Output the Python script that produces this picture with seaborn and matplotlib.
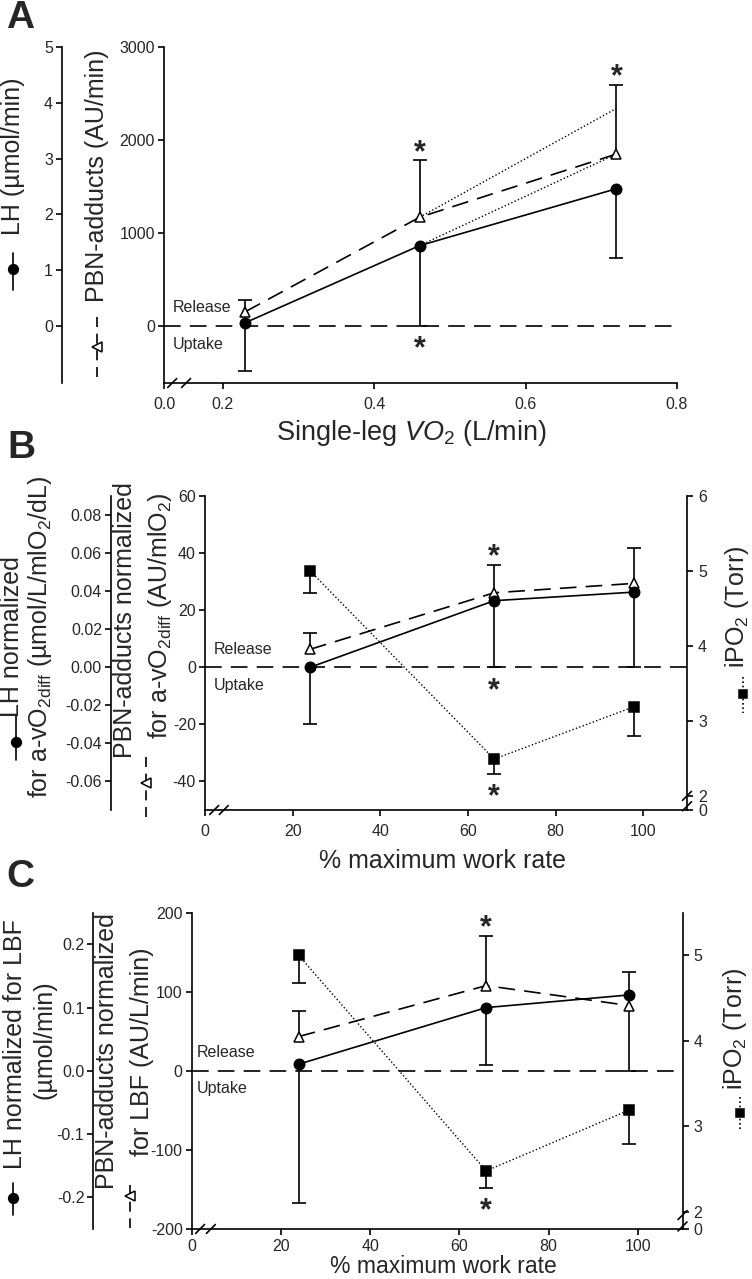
import numpy as np
import seaborn as sns
import matplotlib.pyplot as plt
import matplotlib.ticker as mticker
import matplotlib.transforms as mtransforms
from matplotlib.lines import Line2D

sns.set_style("ticks")
plt.rcParams['font.family'] = ['Liberation Sans', 'DejaVu Sans']
plt.rcParams['mathtext.fontset'] = 'custom'
plt.rcParams['mathtext.rm'] = 'Liberation Sans'
plt.rcParams['mathtext.it'] = 'Liberation Sans:italic'
plt.rcParams['axes.unicode_minus'] = False

W, H = 752, 1279

# --- Panel A: values vs single-leg VO2 ---
a_vo2 = [0.23, 0.46, 0.72]
a_lh = [0.06, 1.44, 2.46]            # LH (umol/min)
a_lh_end = [-0.81, 0.0, 1.22]        # end of one-sided error bar
a_pbn = [154, 1169, 1849]            # PBN-adducts (AU/min)
a_pbn_end = [276, 1785, 2595]
a_dot_x = [0.46, 0.72]
a_dot1 = [865, 1849]
a_dot2 = [1169, 2340]

# --- Panels B and C: values vs % maximum work rate ---
work_rate = [24, 66, 98]
b_lh = [0.0, 0.035, 0.0395]
b_lh_end = [-0.03, 0.0, 0.0]
b_pbn = [6.3, 26.1, 29.4]
b_pbn_end = [11.9, 36.0, 41.8]
b_ipo2 = [5.0, 2.49, 3.19]
b_ipo2_end = [4.70, 2.29, 2.80]

c_lh = [0.0106, 0.100, 0.120]
c_lh_end = [-0.209, 0.0095, 0.156]
c_pbn = [43.4, 107.8, 82.6]
c_pbn_end = [75.9, 171.0, 0.4]
c_ipo2 = [5.0, 2.48, 3.19]
c_ipo2_end = [4.68, 2.28, 2.79]

LW = 1.2
DASH = (0, (10, 5.5))
DOT = (0, (1, 1.6))
TICK_FS = 11.5
LABEL_FS = 18

fig = plt.figure(figsize=(W / 100, H / 100), dpi=100)


def px_rect(x0, y0, x1, y1):
    return [x0 / W, 1 - y1 / H, (x1 - x0) / W, (y1 - y0) / H]


def ftext(x, y, s, **kw):
    kw.setdefault('ha', 'center')
    kw.setdefault('va', 'center')
    return fig.text(x / W, 1 - y / H, s, **kw)


def glyph(x, y0, y1, ym, ls, marker, mfc, ms):
    fig.add_artist(Line2D([x / W] * 2, [1 - y0 / H, 1 - y1 / H], transform=fig.transFigure,
                          color='k', lw=LW, ls=ls))
    fig.add_artist(Line2D([x / W], [1 - ym / H], transform=fig.transFigure, marker=marker,
                          mfc=mfc, mec='k', mew=1.1, ms=ms, ls='none'))


def series(ax, x, y, end, marker, ls, mfc, ms, lw=LW):
    sns.lineplot(x=x, y=y, ax=ax, color='k', linestyle=ls, linewidth=lw, marker=marker,
                 markersize=ms, markerfacecolor=mfc, markeredgecolor='k', markeredgewidth=1.1,
                 errorbar=None, legend=False, zorder=4)
    ax.vlines(x, y, end, color='k', lw=LW, zorder=2)
    ax.plot(x, end, ls='none', marker='_', markersize=9.5, markeredgewidth=LW, color='k', zorder=2)


def style_axis(ax):
    ax.tick_params(direction='out', length=4, width=LW, labelsize=TICK_FS, color='k')
    ax.tick_params(axis='x', pad=6)
    ax.tick_params(axis='y', pad=2.5)
    for s in ax.spines.values():
        s.set_linewidth(LW)
        s.set_color('k')


def make_panel(rect, xlim, ylim, lh_lim, lh_offset, right_lim=None):
    ax = fig.add_axes(rect)
    ax.set_xlim(xlim)
    ax.set_ylim(ylim)
    ax.patch.set_alpha(0)
    sns.despine(ax=ax, top=True, right=True)
    style_axis(ax)
    ax.axhline(0, color='k', lw=LW, ls=DASH, zorder=1)

    ax_lh = ax.twinx()
    ax_lh.set_ylim(lh_lim)
    for side in ['right', 'top', 'bottom']:
        ax_lh.spines[side].set_visible(False)
    ax_lh.spines['left'].set_visible(True)
    ax_lh.spines['left'].set_position(('axes', lh_offset))
    ax_lh.yaxis.set_ticks_position('left')
    style_axis(ax_lh)

    ax_r = None
    if right_lim is not None:
        ax_r = ax.twinx()
        ax_r.set_ylim(right_lim)
        for side in ['left', 'top', 'bottom']:
            ax_r.spines[side].set_visible(False)
        style_axis(ax_r)
        ax_r.tick_params(axis='y', pad=4)
    return ax, ax_lh, ax_r


def slash(ax, fx, fy, wpx, hpx):
    dx, dy = 4.5 / wpx, 4.5 / hpx
    ax.plot([fx - dx, fx + dx], [fy - dy, fy + dy], transform=ax.transAxes, color='k',
            lw=LW, clip_on=False, zorder=6)


def release_uptake(ax, fx):
    tr = mtransforms.blended_transform_factory(ax.transAxes, ax.transData)
    ax.annotate('Release', xy=(fx, 0), xycoords=tr, xytext=(0, 13), textcoords='offset points',
                ha='left', va='center', fontsize=TICK_FS)
    ax.annotate('Uptake', xy=(fx, 0), xycoords=tr, xytext=(0, -13), textcoords='offset points',
                ha='left', va='center', fontsize=TICK_FS)


def star(ax, x, y, up):
    ax.annotate('*', xy=(x, y), xytext=(0, 5 if up else -17), textcoords='offset points',
                ha='center', va='center', fontsize=22, fontweight='bold')


# ================= Panel A =================
rA = (164, 47, 677, 383)
xa0 = 0.2 - (222.7 - 164) * 0.6 / (677 - 222.7)
axA, axA_lh, _ = make_panel(px_rect(*rA), (xa0, 0.8), (-613, 3000), (-613 / 600, 5), -0.1988)
axA.set_xticks([xa0, 0.2, 0.4, 0.6, 0.8])
axA.set_xticklabels(['0.0', '0.2', '0.4', '0.6', '0.8'])
axA.set_yticks([0, 1000, 2000, 3000])
axA_lh.set_yticks([0, 1, 2, 3, 4, 5])

sns.lineplot(x=a_dot_x, y=a_dot1, ax=axA, color='k', linestyle=DOT, linewidth=1.0,
             errorbar=None, legend=False, zorder=3)
sns.lineplot(x=a_dot_x, y=a_dot2, ax=axA, color='k', linestyle=DOT, linewidth=1.0,
             errorbar=None, legend=False, zorder=3)
series(axA, a_vo2, a_pbn, a_pbn_end, '^', DASH, 'white', 7.5)
series(axA_lh, a_vo2, a_lh, a_lh_end, 'o', '-', 'k', 7.5)
star(axA, a_vo2[1], a_pbn_end[1], True)
star(axA, a_vo2[2], a_pbn_end[2], True)
star(axA, a_vo2[1], 0, False)
release_uptake(axA, 0.0175)
wA, hA = rA[2] - rA[0], rA[3] - rA[1]
slash(axA, 0.016, 0, wA, hA)
slash(axA, 0.043, 0, wA, hA)

ftext(20, 18, 'A', fontsize=28, fontweight='bold')
ftext(13, 156, 'LH (µmol/min)', rotation=90, fontsize=LABEL_FS)
glyph(13, 253, 290, 269, '-', 'o', 'k', 7)
ftext(97, 176, 'PBN-adducts (AU/min)', rotation=90, fontsize=LABEL_FS)
glyph(97, 317, 383, 347, (0, (6, 4)), '<', 'white', 7)
ftext(411, 433, r'Single-leg $\mathit{VO}_\mathrm{2}$ (L/min)', fontsize=19.5)

# ================= Panel B =================
rB = (205, 496, 687, 810)
axB, axB_lh, axB_r = make_panel(px_rect(*rB), (0, 110), (-50, 60), (-0.075, 0.09), -0.1950,
                                right_lim=(1.81, 6))
axB.set_xticks([0, 20, 40, 60, 80, 100])
axB.set_yticks([-40, -20, 0, 20, 40, 60])
axB_lh.set_yticks([-0.06, -0.04, -0.02, 0.0, 0.02, 0.04, 0.06, 0.08])
axB_lh.yaxis.set_major_formatter(mticker.FormatStrFormatter('%.2f'))
axB_r.set_yticks([1.81, 2, 3, 4, 5, 6])
axB_r.set_yticklabels(['0', '2', '3', '4', '5', '6'])

series(axB_r, work_rate, b_ipo2, b_ipo2_end, 's', DOT, 'k', 6.5, lw=1.0)
series(axB, work_rate, b_pbn, b_pbn_end, '^', DASH, 'white', 7.5)
series(axB_lh, work_rate, b_lh, b_lh_end, 'o', '-', 'k', 7.5)
star(axB, work_rate[1], b_pbn_end[1], True)
star(axB, work_rate[1], 0, False)
star(axB_r, work_rate[1], b_ipo2_end[1], False)
release_uptake(axB, 0.018)
wB, hB = rB[2] - rB[0], rB[3] - rB[1]
slash(axB, 0.019, 0, wB, hB)
slash(axB, 0.039, 0, wB, hB)
slash(axB_r, 1.0, 0.045, wB, hB)
slash(axB_r, 1.0, 0.012, wB, hB)

ftext(21, 448, 'B', fontsize=28, fontweight='bold')
ftext(12, 637, 'LH normalized', rotation=90, fontsize=LABEL_FS)
ftext(40, 637, r'for a-vO$_\mathrm{2diff}$ (µmol/L/mlO$_\mathrm{2}$/dL)', rotation=90, fontsize=LABEL_FS)
glyph(16, 716, 760, 742, '-', 'o', 'k', 7)
ftext(125, 620, 'PBN-adducts normalized', rotation=90, fontsize=LABEL_FS)
ftext(160, 616, r'for a-vO$_\mathrm{2diff}$ (AU/mlO$_\mathrm{2}$)', rotation=90, fontsize=LABEL_FS)
glyph(146, 757, 817, 783, (0, (6, 4)), '<', 'white', 7)
ftext(737, 607, r'iPO$_\mathrm{2}$ (Torr)', rotation=90, fontsize=LABEL_FS)
glyph(743, 677, 713, 694, DOT, 's', 'k', 6)
ftext(443, 861, '% maximum work rate', fontsize=LABEL_FS)

# ================= Panel C =================
rC = (191.7, 912.7, 682.5, 1229)
axC, axC_lh, axC_r = make_panel(px_rect(*rC), (0, 110), (-200, 200), (-0.25, 0.25), -0.2004,
                                right_lim=(1.8, 5.5))
axC.set_xticks([0, 20, 40, 60, 80, 100])
axC.tick_params(axis='x', pad=3.5)
axC.set_yticks([-200, -100, 0, 100, 200])
axC_lh.set_yticks([-0.2, -0.1, 0.0, 0.1, 0.2])
axC_lh.yaxis.set_major_formatter(mticker.FormatStrFormatter('%.1f'))
axC_r.set_yticks([1.8, 2, 3, 4, 5])
axC_r.set_yticklabels(['0', '2', '3', '4', '5'])

series(axC_r, work_rate, c_ipo2, c_ipo2_end, 's', DOT, 'k', 6.5, lw=1.0)
series(axC, work_rate, c_pbn, c_pbn_end, '^', DASH, 'white', 7.5)
series(axC_lh, work_rate, c_lh, c_lh_end, 'o', '-', 'k', 7.5)
star(axC, work_rate[1], c_pbn_end[1], True)
star(axC_r, work_rate[1], c_ipo2_end[1], False)
release_uptake(axC, 0.011)
wC, hC = rC[2] - rC[0], rC[3] - rC[1]
slash(axC, 0.017, 0, wC, hC)
slash(axC, 0.039, 0, wC, hC)
slash(axC_r, 1.0, 0.044, wC, hC)
slash(axC_r, 1.0, 0.008, wC, hC)

ftext(20, 877, 'C', fontsize=28, fontweight='bold')
ftext(15, 1044, 'LH normalized for LBF', rotation=90, fontsize=LABEL_FS)
ftext(45, 1040, '(µmol/min)', rotation=90, fontsize=LABEL_FS)
glyph(13, 1183, 1215, 1198, '-', 'o', 'k', 7)
ftext(107, 1051, 'PBN-adducts normalized', rotation=90, fontsize=LABEL_FS)
ftext(142, 1052, 'for LBF (AU/L/min)', rotation=90, fontsize=LABEL_FS)
glyph(130, 1185, 1228, 1196, (0, (6, 4)), '<', 'white', 7)
ftext(735, 1029, r'iPO$_\mathrm{2}$ (Torr)', rotation=90, fontsize=LABEL_FS)
glyph(740, 1097, 1130, 1113, DOT, 's', 'k', 6)
ftext(443, 1278, '% maximum work rate', fontsize=16.5, va='bottom')

fig.savefig('out.png', dpi=100)
